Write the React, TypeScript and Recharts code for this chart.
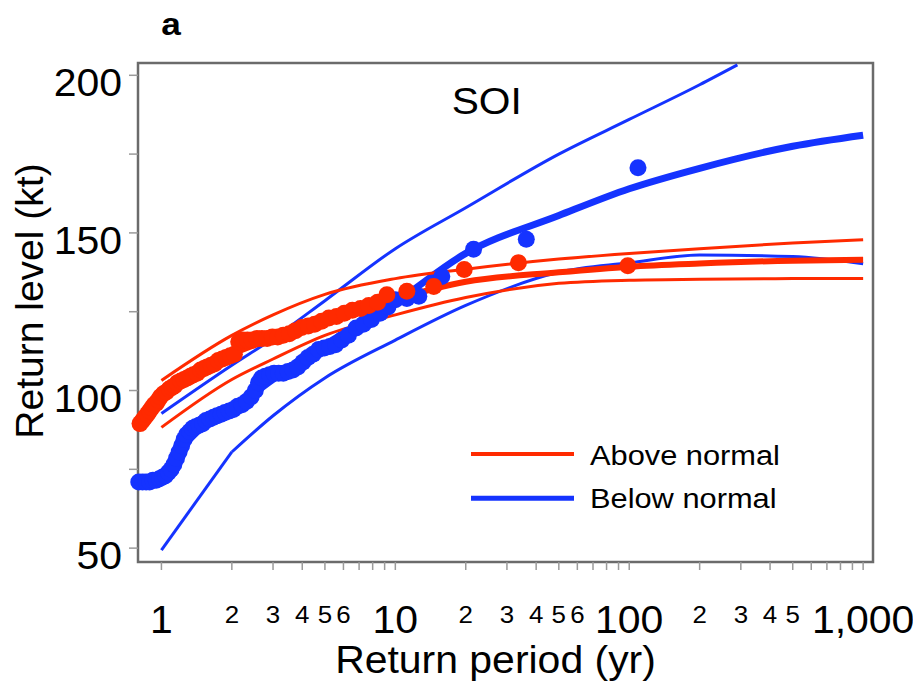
import { ComposedChart, Line, Scatter, XAxis, YAxis, ReferenceArea, Legend } from 'recharts'

const RED = '#ff2a00'
const BLUE = '#1533ff'
const FRAME = '#6b6b6b'
const TICK = '#9a9a9a'
const FONT = '"Liberation Sans", Arial, Helvetica, sans-serif'

const X_DOMAIN = [0.794, 1102]
const Y_DOMAIN = [45.6, 203.9]

// return periods (yr) where the fitted curves are drawn
const fitPeriods = [1, 2, 3, 5, 10, 20, 50, 100, 200, 500, 1000]
const belowFitPeriods = [1, 1.2, 1.5, 2, 3, 5, 10, 20, 50, 100, 200, 500, 1000]
const belowUpperPeriods = [1, 2, 3, 5, 10, 20, 50, 100, 200, 290]

// return levels (kt), above normal SOI
const aboveFit = [98, 111.5, 116.5, 122, 129, 134.5, 137.5, 139.3, 140.3, 141.2, 141.5]
const aboveUpper = [103.2, 117.5, 124, 130.5, 135.5, 138.5, 141.7, 143.5, 145, 146.8, 147.8]
const aboveLower = [88.3, 103.5, 110, 117.5, 124, 129.5, 134, 135, 135.3, 135.5, 135.5]

// return levels (kt), below normal SOI
const belowFit = [73, 81, 88.5, 94, 103.5, 114.5, 128, 143.5, 155.5, 164, 170.5, 177.5, 181]
const belowUpper = [92.7, 108, 116.5, 128.5, 145, 158, 175, 186, 197, 203.3]
const belowLower = [49.4, 80.5, 92, 104, 116, 127, 137.5, 140.5, 143, 142.5, 140.2]

// observed storms (plotting position in yr, intensity in kt)
const abovePeriods = [0.81, 0.83, 0.85, 0.87, 0.89, 0.91, 0.93, 0.95, 0.97, 0.99, 1.02, 1.05, 1.08, 1.11, 1.14, 1.17, 1.21, 1.25, 1.29, 1.33, 1.37, 1.42, 1.47, 1.52, 1.57, 1.63, 1.69, 1.75, 1.82, 1.89, 1.97, 2.05, 2.14, 2.23, 2.33, 2.44, 2.56, 2.69, 2.83, 2.98, 3.14, 3.32, 3.52, 3.74, 3.98, 4.24, 4.52, 4.84, 5.2, 5.6, 6.05, 6.55, 7.1, 7.7, 8.4, 9.2, 11.2, 14.6, 19.7, 33.6, 98.6]
const aboveLevels = [89.5, 90.5, 91.5, 92.5, 93.5, 94.5, 95.5, 96, 97, 98, 99, 99.5, 100.5, 101, 101.5, 102.5, 103, 103.5, 104, 104.5, 105, 105.5, 106.5, 107, 107.5, 108, 108.5, 109.5, 110, 110.5, 111, 111.5, 115.5, 116, 116, 116, 116.5, 116.5, 116.5, 117, 117, 117.5, 118, 119, 120, 120.5, 121, 122, 123, 123.5, 124.5, 125.5, 126, 127, 128, 130.4, 131.5, 133, 138.4, 140.5, 139.6]
const belowPeriods = [0.8, 0.83, 0.86, 0.89, 0.92, 0.95, 0.98, 1.01, 1.04, 1.07, 1.1, 1.13, 1.16, 1.19, 1.22, 1.25, 1.28, 1.32, 1.36, 1.4, 1.45, 1.5, 1.55, 1.61, 1.67, 1.73, 1.8, 1.87, 1.95, 2.03, 2.12, 2.21, 2.31, 2.42, 2.52, 2.6, 2.68, 2.78, 2.9, 3.03, 3.17, 3.32, 3.48, 3.65, 3.83, 4.02, 4.23, 4.45, 4.7, 4.97, 5.25, 5.55, 5.9, 6.3, 6.8, 7.3, 7.9, 8.6, 9.3, 10, 11.2, 12.6, 15.8, 21.6, 36.3, 109]
const belowLevels = [71, 71, 71, 71, 71.5, 71.5, 72, 72.5, 73, 74, 75, 76.5, 78.5, 80.5, 82.5, 84.5, 86, 87, 88, 88.5, 89, 89.5, 90.5, 91, 91.5, 92, 92.5, 93, 93.5, 94, 95, 95.5, 96.5, 98, 100, 102.5, 104, 104.5, 105, 105.5, 105.5, 105.5, 106, 106.5, 107.5, 109, 110.5, 111.5, 113, 113.5, 114, 114.5, 116, 117.5, 119.8, 121, 122.5, 124.5, 126.5, 128.8, 129.2, 129.9, 136.2, 144.8, 148, 170.7]

// axis ticks
const xTicks = [1, 2, 3, 4, 5, 6, 7, 8, 9, 10, 20, 30, 40, 50, 60, 70, 80, 90, 100, 200, 300, 400, 500, 600, 700, 800, 900, 1000]
const majorTicks = [1, 10, 100, 1000]
const majorLabels = ['1', '10', '100', '1,000']
const minorTicks = [2, 3, 4, 5, 6, 20, 30, 40, 50, 60, 200, 300, 400, 500]
const minorLabels = ['2', '3', '4', '5', '6', '2', '3', '4', '5', '6', '2', '3', '4', '5']
const yTicks = [50, 75, 100, 125, 150, 175, 200]
const yLabelled = [50, 100, 150, 200]

const legendItems = [
  { label: 'Above normal', color: RED, width: 4 },
  { label: 'Below normal', color: BLUE, width: 5 },
]

const pts = (ts: number[], vs: number[]) => ts.map((t, i) => ({ t, v: vs[i] }))

function XTick({ x, y, payload }: any) {
  const v = payload.value
  const mi = majorTicks.indexOf(v)
  if (mi >= 0) {
    return (
      <text transform={`translate(${x},${y + 63}) scale(1.05,1)`} textAnchor="middle" fontSize={39} fontFamily={FONT} fill="#000">
        {majorLabels[mi]}
      </text>
    )
  }
  const ni = minorTicks.indexOf(v)
  if (ni >= 0) {
    return (
      <text transform={`translate(${x},${y + 53}) scale(1.08,1)`} textAnchor="middle" fontSize={24} fontFamily={FONT} fill="#000">
        {minorLabels[ni]}
      </text>
    )
  }
  return <g />
}

function YTick({ x, y, payload }: any) {
  if (!yLabelled.includes(payload.value)) return <g />
  return (
    <text transform={`translate(${x},${y + 21}) scale(1.05,1)`} textAnchor="end" fontSize={39} fontFamily={FONT} fill="#000">
      {payload.value}
    </text>
  )
}

function LegendBox() {
  return (
    <svg width={360} height={100}>
      {legendItems.map((it, i) => (
        <g key={it.label}>
          <line x1={8} x2={111} y1={21 + i * 44.3} y2={21 + i * 44.3} stroke={it.color} strokeWidth={it.width} />
          <text transform={`translate(127,${32 + i * 43.3}) scale(1.1,1)`} fontSize={28} fontFamily={FONT} fill="#000">
            {it.label}
          </text>
        </g>
      ))}
    </svg>
  )
}

const fitLine = (data: any[], color: string, width: number, key: string, curve: any = 'monotone') => (
  <Line
    key={key}
    data={data}
    dataKey="v"
    type={curve}
    stroke={color}
    strokeWidth={width}
    dot={false}
    activeDot={false}
    legendType="none"
    isAnimationActive={false}
  />
)

export default function App() {
  const lowerBelow = pts(fitPeriods, belowLower)
  return (
    <div style={{ position: 'relative', width: 905, height: 673, fontFamily: FONT }}>
      <ComposedChart width={905} height={673} margin={{ top: 55, right: 40, bottom: 0, left: 0 }}>
        <ReferenceArea
          x1={X_DOMAIN[0]}
          x2={X_DOMAIN[1]}
          y1={Y_DOMAIN[0]}
          y2={Y_DOMAIN[1]}
          fill="none"
          fillOpacity={0}
          stroke={FRAME}
          strokeWidth={2.5}
        />
        <XAxis
          dataKey="t"
          type="number"
          scale="log"
          domain={X_DOMAIN}
          ticks={xTicks}
          interval={0}
          tick={(p: any) => <XTick {...p} />}
          tickSize={8}
          tickMargin={0}
          tickLine={{ stroke: TICK, strokeWidth: 1.5 }}
          axisLine={false}
          height={119}
          label={{
            content: ({ viewBox }: any) => (
              <text
                transform={`translate(${viewBox.x + viewBox.width / 2 - 10},${viewBox.y + 111}) scale(1.05,1)`}
                textAnchor="middle"
                fontSize={39}
                fontFamily={FONT}
                fill="#000"
              >
                Return period (yr)
              </text>
            ),
          }}
        />
        <YAxis
          dataKey="v"
          type="number"
          domain={Y_DOMAIN}
          ticks={yTicks}
          interval={0}
          tick={(p: any) => <YTick {...p} />}
          tickSize={9}
          tickMargin={7}
          tickLine={{ stroke: TICK, strokeWidth: 1.5 }}
          axisLine={false}
          width={130}
          label={{
            content: () => (
              <text transform="translate(35,293) rotate(-90)" textAnchor="middle" fontSize={39} fontFamily={FONT} fill="#000">
                Return level (kt)
              </text>
            ),
          }}
        />
        {/* lower bound has a sharp bend at 2 yr */}
        {fitLine(lowerBelow.slice(0, 2), BLUE, 3, 'bl0', 'linear')}
        {fitLine(lowerBelow.slice(1), BLUE, 3, 'bl')}
        {fitLine(pts(belowUpperPeriods, belowUpper), BLUE, 3, 'bu')}
        {fitLine(pts(belowFitPeriods, belowFit), BLUE, 7, 'bf')}
        <Scatter
          data={pts(belowPeriods, belowLevels)}
          dataKey="v"
          legendType="none"
          isAnimationActive={false}
          shape={(p: any) => <circle cx={p.cx} cy={p.cy} r={8.5} fill={BLUE} />}
        />
        {fitLine(pts(fitPeriods, aboveLower), RED, 3, 'al')}
        {fitLine(pts(fitPeriods, aboveUpper), RED, 3, 'au')}
        {fitLine(pts(fitPeriods, aboveFit), RED, 6, 'af')}
        <Scatter
          data={pts(abovePeriods, aboveLevels)}
          dataKey="v"
          legendType="none"
          isAnimationActive={false}
          shape={(p: any) => <circle cx={p.cx} cy={p.cy} r={8.5} fill={RED} />}
        />
        <Legend
          layout="horizontal"
          verticalAlign="middle"
          align="center"
          wrapperStyle={{ left: 455, top: 425, width: 360, height: 100 }}
          content={() => <LegendBox />}
        />
      </ComposedChart>
      <svg width={905} height={681} style={{ position: 'absolute', left: 0, top: -8, pointerEvents: 'none' }}>
        <text transform="translate(163,35) scale(1.1,1)" textAnchor="middle" fontSize={32} fontWeight="bold" fontFamily={FONT} fill="#000">
          a
        </text>
        <text transform="translate(478.7,114) scale(1.1,1)" textAnchor="middle" fontSize={37} fontFamily={FONT} fill="#000">
          SOI
        </text>
      </svg>
    </div>
  )
}
